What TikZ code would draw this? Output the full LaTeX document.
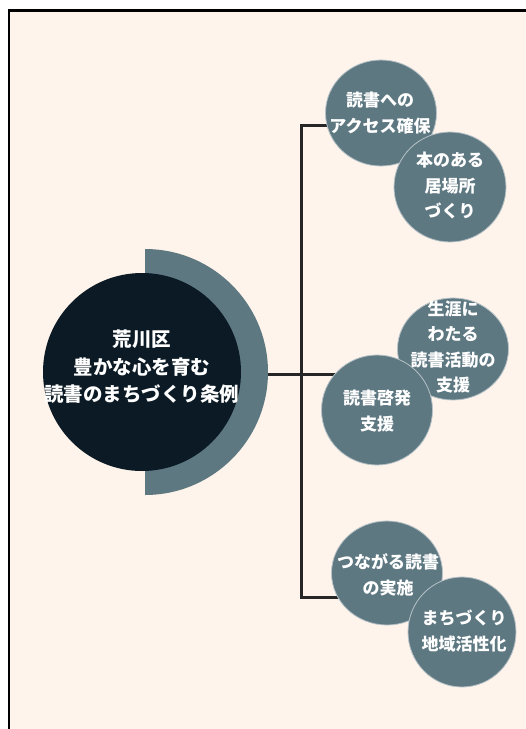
\documentclass[tikz,border=0pt]{standalone}
\usepackage{fontspec}
\newfontfamily\jp{Noto Sans CJK JP}
\usetikzlibrary{shapes.geometric}
\definecolor{cream}{HTML}{FEF4EB}
\definecolor{slate}{HTML}{5E7882}
\definecolor{core}{HTML}{0B1A24}
\definecolor{wire}{HTML}{262626}
\pgfdeclarelayer{back}
\pgfdeclarelayer{wires}
\pgfsetlayers{back,wires,main}
\tikzset{
  bubble/.style={ellipse, fill=slate, draw=white!55!slate, line width=0.8pt, inner sep=0pt, minimum width=111pt, minimum height=106pt},
  btext/.style={text=white, align=center, inner sep=0pt, font=\jp\bfseries\fontsize{17}{25.5}\selectfont},
  ctext/.style={text=white, align=center, inner sep=0pt, font=\jp\bfseries\fontsize{19.5}{27.5}\selectfont},
  conn/.style={draw=wire, line width=3pt}
}
\begin{document}
\begin{tikzpicture}[x=1pt,y=-1pt]
\useasboundingbox (0,0) rectangle (526,729);
\begin{pgfonlayer}{back}
\fill[white] (0,0) rectangle (526,729);
\fill[cream] (9,10.5) rectangle (526,729);
\draw[black, line width=2.5pt] (9,729) -- (9,10.5) -- (526,10.5);
\end{pgfonlayer}
% central hub
\begin{scope}
\clip (145,230) rectangle (320,520);
\fill[slate] (145,372) circle[radius=123pt];
\end{scope}
\coordinate (ringE) at (266,374);
\node[circle, fill=core, minimum size=198pt, inner sep=0pt] (hub) at (142,372) {};
\node[ctext] (thub) at (142,367) {荒川区\\豊かな心を育む\\読書のまちづくり条例};
% right bubbles
\node[bubble] (c1) at (381,113) {};
\node[bubble, minimum width=112pt, minimum height=110pt] (c2) at (450,187) {};
\node[btext] (t1) at (380,113) {読書への\\アクセス確保};
\node[btext] (t2) at (450,186) {本のある\\居場所\\づくり};
\node[bubble, minimum height=102pt] (c3) at (453,349) {};
\node[btext] (t3) at (453,347) {生涯に\\わたる\\読書活動の\\支援};
\node[bubble, minimum height=110pt] (c4) at (377,410) {};
\node[btext] (t4) at (377,411) {読書啓発\\支援};
\node[bubble, minimum height=104pt] (c5) at (387,573) {};
\node[btext] (t5) at (388,575) {つながる読書\\の実施};
\node[bubble, minimum width=108pt, minimum height=110pt] (c6) at (462,632) {};
\node[btext] (t6) at (464,631) {まちづくり\\地域活性化};
% connectors
\coordinate (jt) at (301,125);
\coordinate (jm) at (301,374);
\coordinate (jb) at (301,597);
\begin{pgfonlayer}{wires}
\draw[conn] (ringE) -- (jm);
\draw[conn, line cap=rect] (jt) -- (jb);
\draw[conn] (jt) -- (jt -| c1.center);
\draw[conn] (jm) -- (jm -| c4.center);
\draw[conn] (jb) -- (jb -| c5.center);
\end{pgfonlayer}
\end{tikzpicture}
\end{document}
